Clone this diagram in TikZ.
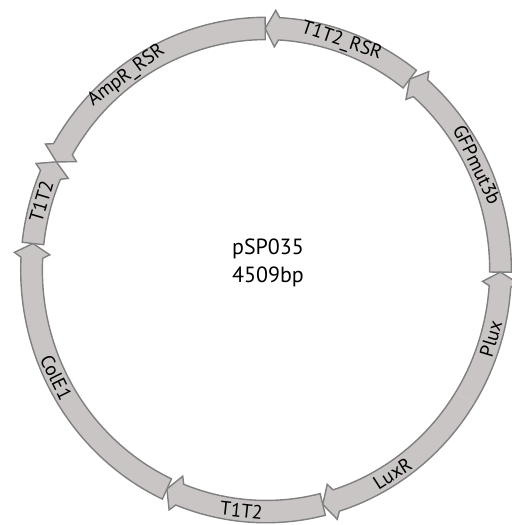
\documentclass[tikz,border=0pt]{standalone}
\usepackage{fontspec}
\setmainfont{PT Sans}

\definecolor{featfill}{RGB}{201,197,197}
\definecolor{featedge}{RGB}{128,128,128}

% radios del anillo
\newcommand{\rmid}{238}
\newcommand{\rin}{227}
\newcommand{\rout}{249}
\newcommand{\rbi}{220}
\newcommand{\rbo}{256}

% segmento: #1 cola, #2 punta, #3 = 1 si se dibuja el borde de la cola
\newcommand{\plasfeat}[3]{%
    \pgfmathsetmacro{\sg}{#2>#1 ? 1 : -1}
    \pgfmathsetmacro{\ha}{#2-\sg*2.4}
    \pgfmathsetmacro{\hb}{#2-\sg*3.4}
    \ifnum#3=1 \def\tailend{-- cycle}\else\def\tailend{}\fi
    \fill[featfill] (#1:\rout) arc[start angle=#1, end angle=\hb, radius=\rout]
        -- (\ha:\rbo) -- (#2:\rmid) -- (\ha:\rbi) -- (\hb:\rin)
        arc[start angle=\hb, end angle=#1, radius=\rin] -- cycle;
    \draw[featline] (#1:\rout) arc[start angle=#1, end angle=\hb, radius=\rout]
        -- (\ha:\rbo) -- (#2:\rmid) -- (\ha:\rbi) -- (\hb:\rin)
        arc[start angle=\hb, end angle=#1, radius=\rin] \tailend;
}

\begin{document}
\begin{tikzpicture}[
        x=0.0197cm, y=0.0203cm,
        featline/.style={draw=featedge, line width=0.8pt},
        featlabel/.style={inner sep=0pt, font=\fontsize{11}{13}\selectfont}
    ]
    \useasboundingbox (-270,-251.2) rectangle (248.7,266);

    % Segmentos
    \plasfeat{90.2}{153.4}{1}   % AmpR_RSR
    \plasfeat{52.2}{90.2}{1}    % T1T2_RSR
    \plasfeat{-0.5}{52.2}{1}    % GFPmut3b
    \plasfeat{-32}{-0.5}{0}     % Plux
    \plasfeat{-32}{-76}{0}      % LuxR
    \plasfeat{-76}{-115}{1}     % T1T2
    \plasfeat{-115}{-186.3}{1}  % ColE1
    \plasfeat{-186.3}{-206.6}{1}% T1T2

    % Etiquetas
    \node[featlabel, rotate=36.5]  (ampr)   at (126.5:\rmid) {AmpR\_RSR};
    \node[featlabel, rotate=-18.8] (trsr)   at (71.2:\rmid)  {T1T2\_RSR};
    \node[featlabel, rotate=-64.2] (gfp)    at (25.8:\rmid)  {GFPmut3b};
    \node[featlabel, rotate=73.5]  (plux)   at (-16.5:\rmid) {Plux};
    \node[featlabel, rotate=32.6]  (luxr)   at (-57.4:\rmid) {LuxR};
    \node[featlabel, rotate=-6]    (tbot)   at (-96:\rmid)   {T1T2};
    \node[featlabel, rotate=-63.6] (cole)   at (-153.6:\rmid){ColE1};
    \node[featlabel, rotate=73.5]  (tleft)  at (163.5:\rmid) {T1T2};

    % Centro
    \node[align=center, font=\fontsize{12.5}{15.5}\selectfont] (plasmid) at (2,7) {pSP035\\4509bp};

\end{tikzpicture}
\end{document}
